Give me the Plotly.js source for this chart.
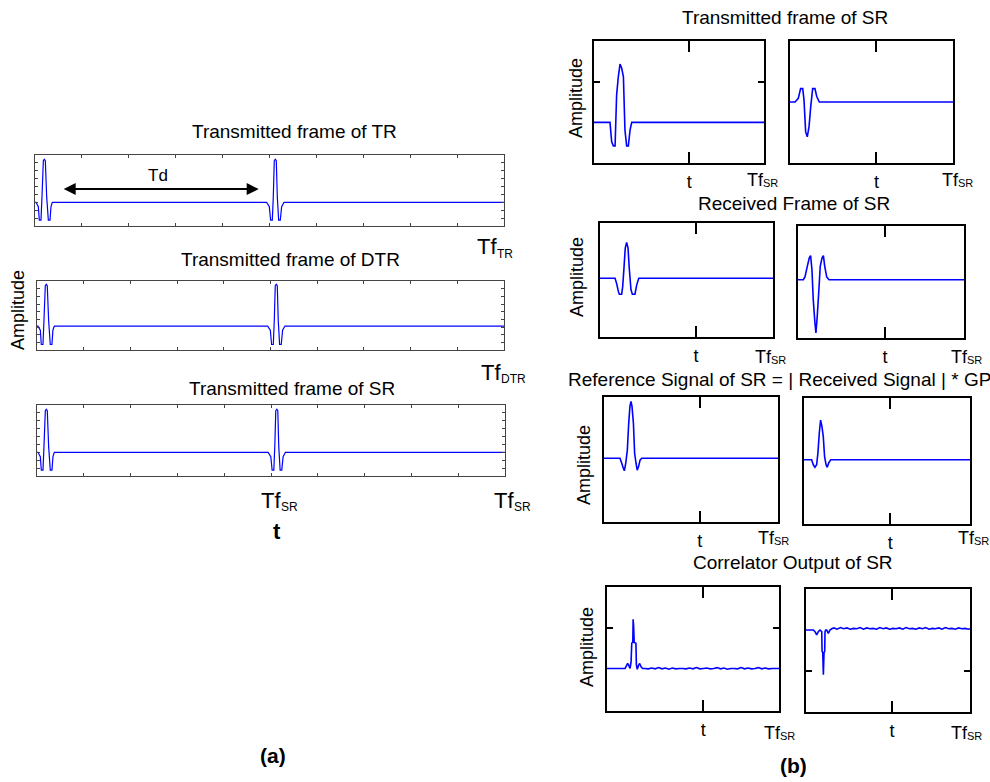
<!DOCTYPE html>
<html><head><meta charset="utf-8">
<script src="https://cdn.plot.ly/plotly-3.0.1.min.js"></script>
<style>html,body{margin:0;padding:0;background:#fff}#chart{width:990px;height:782px}</style>
</head><body><div id="chart"></div>
<script>
// ---------- data ----------
// (a) frames: time 0..1000 (one long frame), amplitude
const frameT   = [0, 2.1, 7.1, 9.2, 12.8, 14.9, 17.8, 19.9, 22.0, 24.9, 28.4, 32.0, 34.1, 37.0,
                  493.9, 499.6, 502.4, 506.0, 508.1, 510.2, 512.4, 514.5, 516.6, 519.5, 523.0, 525.9, 530.9, 1000];
const frameTR  = [0, 0, -0.18, -0.75, -0.75, 0.24, 1.76, 1.82, 1.76, 0.24, -0.75, -0.75, -0.18, 0,
                  0, -0.18, -0.75, -0.75, 0.24, 1.76, 1.82, 1.76, 0.24, -0.75, -0.75, -0.18, 0, 0];
const frameDTR = [0.04, 0.04, -0.14, -0.76, -0.76, 0.28, 1.80, 1.86, 1.80, 0.28, -0.76, -0.76, -0.14, 0.04,
                  0.04, -0.14, -0.76, -0.76, 0.28, 1.80, 1.86, 1.80, 0.28, -0.76, -0.76, -0.14, 0.04, 0.04];
const frameSR  = [0, 0, -0.18, -0.75, -0.75, 0.24, 1.76, 1.82, 1.76, 0.24, -0.75, -0.75, -0.18, 0,
                  0, -0.18, -0.75, -0.75, 0.24, 1.76, 1.82, 1.76, 0.24, -0.75, -0.75, -0.18, 0, 0];

// (b) time 0..100 within one frame
const txSR1T = [0, 9.4, 10.4, 11.4, 12.4, 13.3, 14.3, 15.3, 16.3, 17.3, 18.2, 19.2, 20.2, 21.2, 22.2, 100];
const txSR1A = [0, 0, -0.48, -0.58, -0.58, 0.67, 1.12, 1.43, 1.33, 1.12, -0.19, -0.58, -0.58, -0.19, 0, 0];
const txSR2T = [0, 3.1, 5.1, 6.5, 7.8, 8.6, 9.6, 10.6, 11.7, 12.7, 13.9, 15.3, 16.4, 18.0, 100];
const txSR2A = [0, 0, 0.06, 0.22, 0.22, 0.03, -0.49, -0.57, -0.40, -0.08, 0.22, 0.22, 0.09, 0, 0];

const rxSR1T = [0, 8.7, 9.6, 10.6, 11.2, 12.5, 13.1, 13.9, 14.6, 15.4, 16.2, 16.9, 17.9, 18.7, 20.2, 21.2, 22.4, 100];
const rxSR1A = [0, 0, -0.09, -0.23, -0.28, -0.28, -0.15, 0.20, 0.53, 0.63, 0.53, 0.18, -0.20, -0.28, -0.28, -0.12, 0, 0];
const rxSR2T = [0, 3.2, 4.2, 5.6, 6.8, 7.6, 8.4, 9.2, 10.2, 10.8, 11.6, 12.7, 13.4, 14.5, 15.3, 16.1, 17.3, 18.7, 100];
const rxSR2A = [0, 0, 0.05, 0.24, 0.39, 0.43, 0.18, -0.36, -0.77, -0.95, -0.65, -0.12, 0.24, 0.39, 0.43, 0.24, 0.05, 0, 0];

const refSR1T = [0, 9.2, 10.2, 11.1, 11.7, 12.5, 13.4, 14.2, 14.9, 15.5, 16.1, 16.9, 17.6, 18.4, 19.1, 19.9, 20.7, 21.7, 100];
const refSR1A = [0, 0, -0.08, -0.16, -0.20, -0.08, 0.13, 0.56, 0.83, 0.91, 0.83, 0.56, 0.08, -0.08, -0.19, -0.13, -0.03, 0, 0];
const refSR2T = [0, 4.6, 5.6, 6.6, 7.6, 8.4, 9.2, 10.0, 10.8, 11.6, 12.4, 13.3, 14.0, 14.9, 16.1, 100];
const refSR2A = [0, 0, -0.08, -0.12, -0.08, 0.11, 0.42, 0.63, 0.53, 0.37, 0.05, -0.08, -0.12, -0.05, 0, 0];

const corrSR1T = [0, 10.5, 11.0, 12.0, 12.6, 13.4, 14.0, 14.4, 15.0, 15.2, 15.5, 15.8, 16.8, 17.1, 17.6, 18.4, 19.0, 19.8, 20.7,
                  22, 24, 26, 28, 30, 32, 34, 36, 38, 40, 42, 44, 46, 48, 50, 52, 54, 56, 58, 60,
                  62, 64, 66, 68, 70, 72, 74, 76, 78, 80, 82, 84, 86, 88, 90, 92, 94, 96, 98, 100];
const corrSR1A = [0.03, 0.03, 0.07, 0.15, 0.11, 0.03, 0.19, 0.64, 0.66, 1.22, 1.04, 0.66, 0.64, 0.11, 0.01, 0.11, 0.15, 0.07, 0.03,
                  0.03, 0.02, 0.04, 0.02, 0.05, 0.02, 0.04, 0.01, 0.04, 0.02, 0.03, 0.03, 0.02, 0.04, 0.02, 0.05, 0.02, 0.03, 0.04, 0.02,
                  0.03, 0.05, 0.02, 0.04, 0.01, 0.03, 0.03, 0.02, 0.05, 0.02, 0.04, 0.02, 0.03, 0.05, 0.02, 0.04, 0.02, 0.03, 0.03, 0.03];
const corrSR2T = [0, 4.5, 5.5, 6.5, 7.5, 8.5, 9.6, 9.8, 10.2, 10.6, 11.0, 11.4, 11.6, 12.0, 12.6, 13.6, 14.6, 15.7,
                  17, 19, 21, 23, 25, 27, 29, 31, 33, 35, 37, 39, 41, 43, 45, 47, 49, 51, 53, 55, 57,
                  59, 61, 63, 65, 67, 69, 71, 73, 75, 77, 79, 81, 83, 85, 87, 89, 91, 93, 95, 97, 99, 100];
const corrSR2A = [0, 0, -0.04, -0.12, -0.04, 0, -0.04, -0.52, -0.55, -1.09, -0.55, -0.52, -0.04, 0, 0, -0.08, 0, 0.03,
                  0.05, 0.02, 0.06, 0.03, 0.05, 0.02, 0.04, 0.03, 0.06, 0.02, 0.05, 0.03, 0.04, 0.02, 0.06, 0.03, 0.05, 0.02,
                  0.04, 0.03, 0.05, 0.02, 0.06, 0.03, 0.04, 0.02, 0.05, 0.03, 0.06, 0.02, 0.04, 0.03, 0.05, 0.02, 0.06, 0.03,
                  0.04, 0.02, 0.05, 0.03, 0.04, 0.02, 0.03];

// tick labels
const rightTickLabel = "t";
const frameEndMain = "Tf";
const frameEndSub = "SR";
const leftEndSubs = ["TR", "DTR", "SR", "SR"];
const rightTickPos = [56, 53, 55.5, 52.4, 55, 52, 56, 52.4];

// ---------- layout helpers ----------
const W = 990, H = 782;
const FONT = "Liberation Sans, Arial, sans-serif";
function dx(a, b) { return [a / W, b / W]; }
function dy(top, bot) { return [1 - bot / H, 1 - top / H]; }
function px(x) { return x / W; }
function py(y) { return 1 - y / H; }

const layout = {
  width: W, height: H, margin: {l: 0, r: 0, t: 0, b: 0},
  paper_bgcolor: '#fff', plot_bgcolor: '#fff', showlegend: false,
  font: {family: FONT, color: '#000'},
  annotations: []
};

// left panels
const leftBoxes = [[35, 504, 155, 226], [37, 504, 281, 350], [37, 505, 405, 476]];
const leftSeries = [frameTR, frameDTR, frameSR];
const traces = [];
leftBoxes.forEach((b, i) => {
  const n = i === 0 ? '' : String(i + 1);
  layout['xaxis' + n] = {
    domain: dx(b[0], b[1]), anchor: 'y' + n, range: [0, 1000], dtick: 100, tick0: 0,
    ticks: 'inside', ticklen: 3, tickwidth: 1, tickcolor: '#444', showticklabels: false,
    showline: true, linecolor: '#444', linewidth: 1, mirror: 'ticks', showgrid: false, zeroline: false, fixedrange: true
  };
  layout['yaxis' + n] = {
    domain: dy(b[2], b[3]), anchor: 'x' + n, range: [-1, 2], dtick: 1 / 3, tick0: 0,
    ticks: 'inside', ticklen: 3, tickwidth: 1, tickcolor: '#444', showticklabels: false,
    showline: true, linecolor: '#444', linewidth: 1, mirror: 'ticks', showgrid: false, zeroline: false, fixedrange: true
  };
  traces.push({x: frameT, y: leftSeries[i], xaxis: 'x' + n, yaxis: 'y' + n, type: 'scatter', mode: 'lines',
    line: {color: '#0000ff', width: 1.2, simplify: false}, hoverinfo: 'skip'});
});

// right panels
const rightBoxes = [
  [594, 764, 41, 163], [790, 953, 41, 163],
  [600, 773, 223, 337], [798, 964, 226, 338],
  [604, 778, 397, 522], [804, 970, 398, 524],
  [607, 779, 587, 711], [806, 970, 589, 712]
];
const endLabelPos = [[761, 180], [956, 180], [769, 357], [965, 357], [772, 538], [972, 538], [778, 733], [965, 733]];
const rightRanges = [[-1, 2], [-1, 1], [-1.03, 0.97], [-1.04, 0.96], [-1.02, 0.98], [-1.02, 0.98], [-1, 2], [-2, 1]];
const rightYTicks = [[1], [], [], [], [], [], [1], [-1]];
const rightT = [txSR1T, txSR2T, rxSR1T, rxSR2T, refSR1T, refSR2T, corrSR1T, corrSR2T];
const rightA = [txSR1A, txSR2A, rxSR1A, rxSR2A, refSR1A, refSR2A, corrSR1A, corrSR2A];
rightBoxes.forEach((b, i) => {
  const n = String(i + 4);
  layout['xaxis' + n] = {
    domain: dx(b[0], b[1]), anchor: 'y' + n, range: [0, 100],
    tickmode: 'array', tickvals: [rightTickPos[i]], ticktext: [rightTickLabel],
    ticks: 'inside', ticklen: 11, tickwidth: 2, tickcolor: '#000',
    tickfont: {family: FONT, size: 18, color: '#000'}, ticklabelstandoff: 1,
    showline: true, linecolor: '#000', linewidth: 2, mirror: 'ticks', showgrid: false, zeroline: false, fixedrange: true
  };
  layout['yaxis' + n] = {
    domain: dy(b[2], b[3]), anchor: 'x' + n, range: rightRanges[i],
    tickmode: 'array', tickvals: rightYTicks[i], showticklabels: false,
    ticks: 'inside', ticklen: 6, tickwidth: 2, tickcolor: '#000',
    showline: true, linecolor: '#000', linewidth: 2, mirror: 'ticks', showgrid: false, zeroline: false, fixedrange: true
  };
  traces.push({x: rightT[i], y: rightA[i], xaxis: 'x' + n, yaxis: 'y' + n, type: 'scatter', mode: 'lines',
    line: {color: '#0000ff', width: 1.6, simplify: false}, hoverinfo: 'skip'});
});

function ann(text, x, y, size, extra) {
  layout.annotations.push(Object.assign({
    text: text, x: px(x), y: py(y), xref: 'paper', yref: 'paper', showarrow: false,
    xanchor: 'center', yanchor: 'middle', font: {family: FONT, size: size, color: '#000'}
  }, extra || {}));
}
// frame-end labels of (b): "Tf" with a small "SR" on the same baseline
endLabelPos.forEach(p => {
  ann(frameEndMain, p[0] - 16, p[1], 18, {xanchor: 'left'});
  ann(frameEndSub, p[0], p[1] + 3, 11, {xanchor: 'left'});
});
// frame-end labels of (a): "Tf" with a lowered small subscript
const leftEndPos = [[499, 247], [503, 372], [283, 500], [516, 500]];
leftEndPos.forEach((p, i) => {
  ann(frameEndMain, p[0], p[1], 22, {xanchor: 'right'});
  ann(leftEndSubs[i], p[0] - 4, p[1] + 7, 12, {xanchor: 'left'});
});
// (a) texts
ann('Transmitted frame of TR', 294, 131, 19);
ann('Transmitted frame of DTR', 290, 260, 19);
ann('Transmitted frame of SR', 292, 388, 19);
ann('Td', 158, 175, 17);
ann('<b>t</b>', 277, 531, 22);
ann('Amplitude', 18, 310, 18, {textangle: -90});
ann('<b>(a)</b>', 273, 755, 21);
// (b) texts
ann('Transmitted frame of SR', 785, 18, 19);
ann('Received Frame of SR', 794, 203, 19);
ann('Reference Signal of SR = | Received Signal | * GP', 779, 380, 19);
ann('Correlator Output of SR', 793, 562, 19);
ann('<b>(b)</b>', 793, 765, 21);
ann('Amplitude', 576, 98, 18, {textangle: -90});
ann('Amplitude', 577, 277, 18, {textangle: -90});
ann('Amplitude', 584, 465, 18, {textangle: -90});
ann('Amplitude', 587, 647, 18, {textangle: -90});

// Td double arrow (in first panel's data coordinates)
layout.annotations.push({
  xref: 'x', yref: 'y', axref: 'x', ayref: 'y', x: 477, y: 0.56, ax: 58, ay: 0.56, text: '',
  showarrow: true, arrowhead: 2, startarrowhead: 2, arrowside: 'end+start', arrowsize: 1.2, startarrowsize: 1.2,
  arrowwidth: 2, arrowcolor: '#000', standoff: 0, startstandoff: 0
});

Plotly.newPlot('chart', traces, layout, {staticPlot: true, displayModeBar: false});
</script>
</body></html>
